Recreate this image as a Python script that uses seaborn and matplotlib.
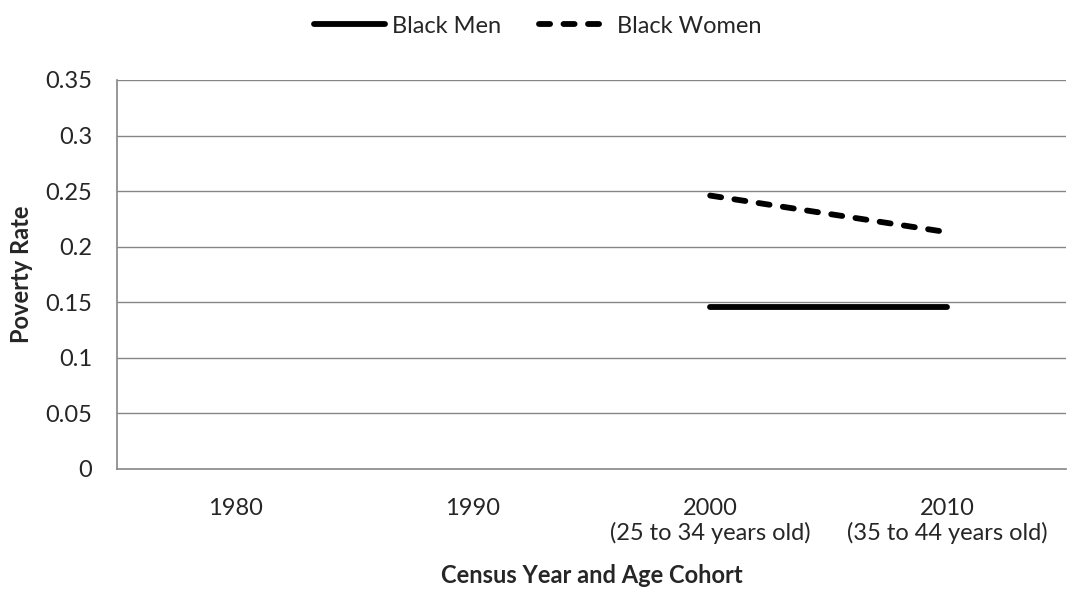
import numpy as np
import pandas as pd
import matplotlib
matplotlib.use("Agg")
import matplotlib.pyplot as plt
import seaborn as sns

# veriler
categories = ["1980", "1990", "2000\n(25 to 34 years old)", "2010\n(35 to 44 years old)"]
black_men = [np.nan, np.nan, 0.146, 0.146]
black_women = [np.nan, np.nan, 0.246, 0.213]
y_ticks = [0, 0.05, 0.1, 0.15, 0.2, 0.25, 0.3, 0.35]
y_tick_labels = ["0", "0.05", "0.1", "0.15", "0.2", "0.25", "0.3", "0.35"]

sns.set_style("white")
plt.rcParams["font.family"] = ["Lato", "DejaVu Sans"]
fs = 17

df = pd.DataFrame({
    "pos": list(range(len(categories))) * 2,
    "rate": black_men + black_women,
    "group": ["Black Men"] * len(categories) + ["Black Women"] * len(categories),
})

fig = plt.figure(figsize=(10.67, 5.95), dpi=100)
ax = fig.add_axes([0.1097, 0.2118, 0.8894, 0.6538])

grid_color = "#868686"
for y in y_ticks[1:]:
    ax.axhline(y, color=grid_color, lw=1.0, zorder=0)

men = df[df["group"] == "Black Men"].dropna()
women = df[df["group"] == "Black Women"].dropna()
sns.lineplot(data=men, x="pos", y="rate", ax=ax, color="black", lw=4.2,
             solid_capstyle="round", label="Black Men", legend=False)
sns.lineplot(data=women, x="pos", y="rate", ax=ax, color="black", lw=4.2,
             dashes=False, label="Black Women", legend=False)
ax.lines[-1].set_dashes([1.9, 2.3])
ax.lines[-1].set_dash_capstyle("round")

ax.set_xlim(-0.5, len(categories) - 0.5)
ax.set_ylim(0, 0.35)
ax.set_yticks(y_ticks)
ax.set_yticklabels(y_tick_labels, fontsize=fs)
ax.set_xticks(range(len(categories)))
ax.set_xticklabels(categories, fontsize=fs, linespacing=1.15)
ax.set_xticks(np.arange(-0.5, len(categories)), minor=True)
ax.tick_params(axis="x", which="major", length=0, pad=21)
ax.tick_params(axis="x", which="minor", length=7, color=grid_color, width=1.2, direction="out")
ax.tick_params(axis="y", length=7, color=grid_color, width=1.2, direction="out", pad=11)

for s in ["top", "right"]:
    ax.spines[s].set_visible(False)
for s in ["left", "bottom"]:
    ax.spines[s].set_color(grid_color)
    ax.spines[s].set_linewidth(1.2)

ax.set_xlabel("Census Year and Age Cohort", fontsize=fs, fontweight="bold")
ax.xaxis.set_label_coords(0.5, -0.245)
ax.set_ylabel("Poverty Rate", fontsize=fs, fontweight="bold")
ax.yaxis.set_label_coords(-0.0884, 0.5)

handles = ax.lines[-2:]
fig.legend(handles, ["Black Men", "Black Women"], loc="center",
           bbox_to_anchor=(0.5042, 0.956), ncol=2, frameon=False,
           fontsize=fs, handlelength=3.0, columnspacing=1.6, handletextpad=0.3)

fig.savefig("out.png", dpi=100)
